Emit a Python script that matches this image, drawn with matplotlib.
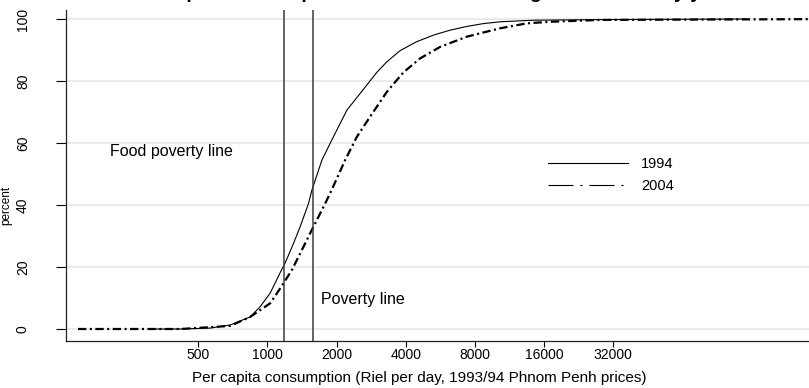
import matplotlib.pyplot as plt
from matplotlib.lines import Line2D

plt.rcParams['font.family'] = ['Liberation Sans', 'DejaVu Sans']
plt.rcParams['lines.scale_dashes'] = False

# cumulative distribution of consumption (Riel per day) -> percent below
cons_1994 = [319, 418, 564, 689, 842, 930, 1029, 1137, 1195, 1299, 1389, 1510, 1562,
             1727, 1908, 2218, 2534, 2995, 3310, 3782, 4439, 5278, 6242, 7376, 8684,
             10297, 14330, 28035, 122000]
pct_1994 = [0, 0, 0.3, 1.3, 3.9, 7.2, 11.6, 18.2, 21.3, 27.6, 33, 40.5, 44.8,
            54.5, 61, 70.6, 76, 82.8, 86.2, 89.8, 92.6, 94.8, 96.4, 97.6, 98.5,
            99.1, 99.6, 99.8, 100]

cons_2004 = [150, 418, 689, 842, 930, 1029, 1137, 1278, 1413, 1562, 1669, 1784, 1876,
             2180, 2451, 2800, 3310, 3909, 4621, 5646, 7376, 10297, 13455, 16994, 28035, 343000]
pct_2004 = [0, 0, 1, 3.9, 6.1, 8.3, 13.1, 19, 25.5, 32, 36.2, 40.5, 43.8,
            54.5, 62, 68.5, 76.5, 82.8, 87.3, 91, 94.3, 97, 98.6, 99.1, 99.7, 100]

food_line = 1185
pov_line = 1578

xticks = [500, 1000, 2000, 4000, 8000, 16000, 32000]
yticks = [0, 20, 40, 60, 80, 100]
years = ['1994', '2004']

fig = plt.figure(figsize=(8.09, 3.88), dpi=100)
# plot region runs off the right edge like in the original export
ax = fig.add_axes([66/809, 47/388, 934/809, 331/388])

ax.plot(cons_1994, pct_1994, color='black', lw=0.8)
ax.plot(cons_2004, pct_2004, color='black', lw=1.6, dashes=(6, 2.5, 1.5, 2.5))

ax.axvline(food_line, color='#3a3a3a', lw=1.1)
ax.axvline(pov_line, color='#3a3a3a', lw=1.1)

ax.set_xscale('log', base=2)
ax.set_xlim(133, 1.54e6)
ax.set_ylim(-3.87, 102.9)

ax.set_xticks(xticks)
ax.set_xticklabels([str(t) for t in xticks])
ax.minorticks_off()
ax.set_yticks(yticks)
ax.set_yticklabels([str(t) for t in yticks], rotation=90, va='center')

ax.yaxis.grid(True, color='#e9e9e9', lw=1.3)
ax.set_axisbelow(True)
for s in ['top', 'right']:
    ax.spines[s].set_visible(False)
for s in ['left', 'bottom']:
    ax.spines[s].set_color('#222222')
    ax.spines[s].set_linewidth(0.9)

ax.tick_params(axis='y', length=7, width=0.8, pad=19, labelsize=10)
ax.tick_params(axis='x', length=4, width=0.8, pad=1, labelsize=10)

ax.set_xlabel('Per capita consumption (Riel per day, 1993/94 Phnom Penh prices)', fontsize=11)
ax.xaxis.set_label_coords(353/934, -0.09)
ax.set_ylabel('percent', fontsize=8.5)
ax.yaxis.set_label_coords(-0.057, 0.41)

ax.text(207, 57.1, 'Food poverty line', fontsize=11.5, va='center')
ax.text(1714, 9.4, 'Poverty line', fontsize=11.5, va='center')

handles = [Line2D([], [], color='black', lw=0.8),
           Line2D([], [], color='black', lw=0.8, dashes=(18, 5, 1.5, 5))]
ax.legend(handles, years, loc='upper left', bbox_to_anchor=(0.516, 0.557),
          frameon=False, fontsize=10.5, handlelength=5.5, handletextpad=0.9,
          labelspacing=0.6, borderpad=0, borderaxespad=0)

# title sits mostly above the exported area, only descenders show
fig.text(0.53, 1.006, 'Per capita consumption distributions among households by year',
         fontsize=14, fontweight='bold', ha='center', va='baseline')

fig.savefig('out.png', dpi=100)
